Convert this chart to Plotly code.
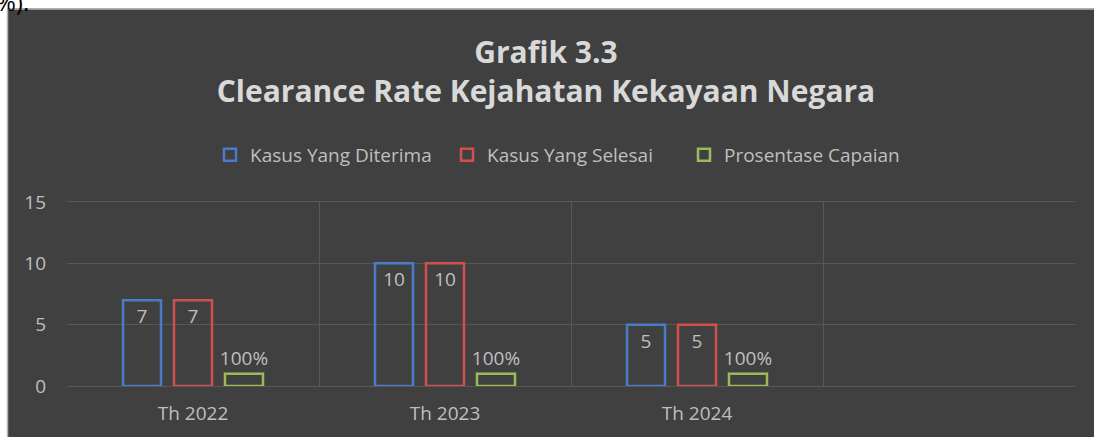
import plotly.graph_objects as go

categories = ["Th 2022", "Th 2023", "Th 2024", " "]
kasus_diterima = [7, 10, 5, None]
kasus_selesai = [7, 10, 5, None]
prosentase = [1.0, 1.0, 1.0, None]
y_ticks = [0, 5, 10, 15]

BG = "#404040"
TXT = "#BFBFBF"
GRID = "#575757"
FONT = "Open Sans"
FS = 19

W, H = 1094, 437
L, R, T, B = 67, 19, 202, 51
PW, PH = W - L - R, H - T - B


def px_x(px):
    return (px - L) / PW


def px_y(py):
    return 1 + (T - py) / PH


def bar(name, values, color, **kw):
    return go.Bar(
        name=name, x=categories, y=values,
        marker=dict(color="rgba(0,0,0,0)", line=dict(color=color, width=2.5)),
        textfont=dict(color=TXT, size=FS, family=FONT), constraintext="none",
        **kw,
    )


fig = go.Figure()
fig.add_trace(bar("Kasus Yang Diterima", kasus_diterima, "#4A7BC8",
                  text=kasus_diterima, textposition="inside", insidetextanchor="end"))
fig.add_trace(bar("Kasus Yang Selesai", kasus_selesai, "#D0504F",
                  text=kasus_selesai, textposition="inside", insidetextanchor="end"))
fig.add_trace(bar("Prosentase Capaian", prosentase, "#9BBB59",
                  texttemplate="%{y:.0%}", textposition="outside", cliponaxis=False))

fig.update_layout(
    width=W, height=H,
    margin=dict(l=L, r=R, t=T, b=B),
    paper_bgcolor=BG, plot_bgcolor=BG,
    font=dict(family=FONT, color=TXT, size=FS),
    barmode="group", bargap=0.393, bargroupgap=0.255,
    title=dict(
        text="Grafik 3.3<br>Clearance Rate Kejahatan Kekayaan Negara",
        x=546 / W, xref="container", xanchor="center",
        y=1 - 63 / H, yref="container", yanchor="top",
        font=dict(family=FONT, size=30, color="#D9D9D9", weight="bold"),
    ),
    legend=dict(
        orientation="h", x=210 / W, xref="container", xanchor="left",
        y=1 - 155 / H, yref="container", yanchor="middle",
        font=dict(size=FS, color=TXT), bgcolor="rgba(0,0,0,0)",
        traceorder="normal", itemwidth=30, entrywidth=192,
    ),
    showlegend=True,
)
fig.update_xaxes(
    type="category", categoryorder="array", categoryarray=categories,
    tickson="boundaries", showgrid=True, gridcolor=GRID, gridwidth=1,
    showline=True, linecolor=GRID, mirror=True, ticks="",
    tickfont=dict(size=FS, color=TXT), range=[-0.5, 3.5], ticklabelstandoff=10,
)
fig.update_yaxes(
    range=[0, 15], tickvals=y_ticks, showgrid=True, gridcolor=GRID,
    zeroline=False, showline=False, ticks="", ticklabelstandoff=20,
    tickfont=dict(size=FS, color=TXT),
)

# page around the chart box: white strip on top and left, thin grey border
fig.add_shape(type="rect", xref="paper", yref="paper", layer="above",
              x0=px_x(0), x1=px_x(W), y0=px_y(8.5), y1=px_y(0),
              fillcolor="white", line_width=0)
fig.add_shape(type="rect", xref="paper", yref="paper", layer="above",
              x0=px_x(0), x1=px_x(7), y0=px_y(H), y1=px_y(0),
              fillcolor="white", line_width=0)
fig.add_shape(type="line", xref="paper", yref="paper", layer="above",
              x0=px_x(7), x1=px_x(W), y0=px_y(9), y1=px_y(9),
              line=dict(color="#B4B4B4", width=1.5))
fig.add_shape(type="line", xref="paper", yref="paper", layer="above",
              x0=px_x(7.5), x1=px_x(7.5), y0=px_y(H), y1=px_y(9),
              line=dict(color="#B4B4B4", width=1.5))
fig.add_annotation(text="%).", xref="paper", yref="paper", showarrow=False,
                   x=px_x(-6), xanchor="left", y=px_y(20), yanchor="bottom",
                   font=dict(family=FONT, size=24, color="black"))

fig.write_html(
    "out.html",
    config={"displayModeBar": False},
    post_script="document.documentElement.style.overflow = 'hidden';"
                "document.body.style.overflow = 'hidden';"
                "document.body.style.margin = '0';",
)
